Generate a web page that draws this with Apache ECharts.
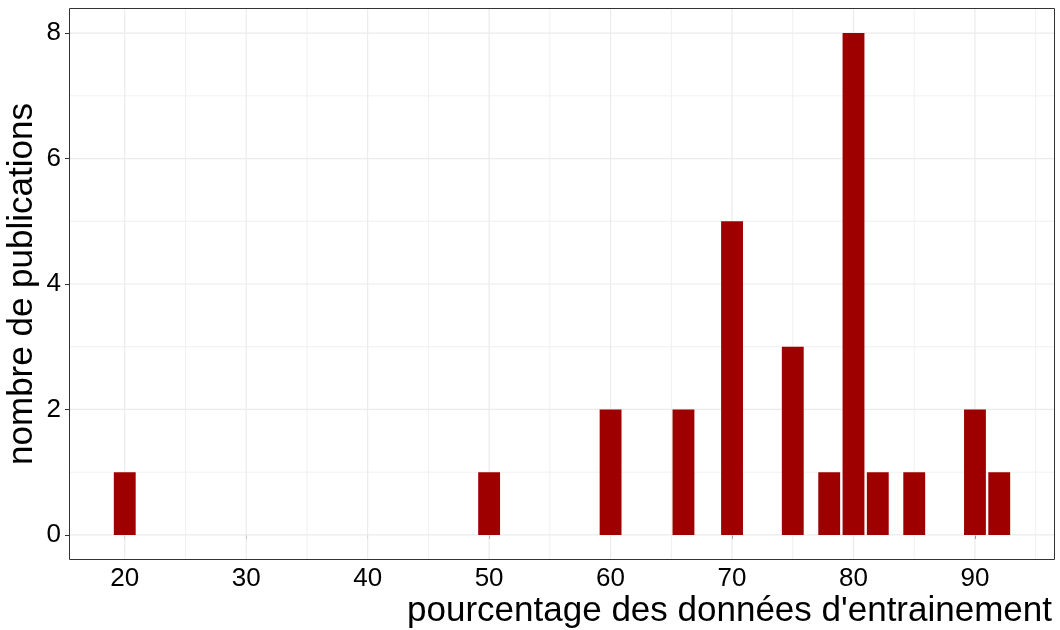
<!DOCTYPE html>
<html>
<head>
<meta charset="utf-8">
<script src="https://cdn.jsdelivr.net/npm/echarts@6/dist/echarts.min.js"></script>
<style>
  html, body { margin: 0; padding: 0; background: #fff; }
  #chart { width: 1060px; height: 630px; }
</style>
</head>
<body>
<div id="chart"></div>
<script>
// Training-data percentage reported by each publication, and how many publications used it
const trainPercent = [20, 50, 60, 66, 70, 75, 78, 80, 82, 85, 90, 92];
const pubCount     = [1, 1, 2, 2, 5, 3, 1, 8, 1, 1, 2, 1];

// Axis breaks
const xMajorBreaks = [20, 30, 40, 50, 60, 70, 80, 90];
const xMinorBreaks = [25, 35, 45, 55, 65, 75, 85, 95];
const yMajorBreaks = [0, 2, 4, 6, 8];
const yMinorBreaks = [1, 3, 5, 7];

const barWidthUnits = 1.8;
const xMin = 15.41, xMax = 96.59;
const yMin = -0.4, yMax = 8.4;

const FONT = '"Liberation Sans", Arial, sans-serif';
const GRID = { left: 69, right: 5, top: 8, bottom: 70 };
const W = 1060, H = 630;

function vLine(color, width) {
  return function (params, api) {
    const cs = params.coordSys;
    const p = api.coord([api.value(0), 0]);
    return {
      type: 'line',
      shape: { x1: p[0], y1: cs.y, x2: p[0], y2: cs.y + cs.height },
      style: { stroke: color, lineWidth: width }
    };
  };
}
function hLine(color, width) {
  return function (params, api) {
    const cs = params.coordSys;
    const p = api.coord([xMin, api.value(1)]);
    return {
      type: 'line',
      shape: { x1: cs.x, y1: p[1], x2: cs.x + cs.width, y2: p[1] },
      style: { stroke: color, lineWidth: width }
    };
  };
}

const chart = echarts.init(document.getElementById('chart'), null, { renderer: 'canvas' });

chart.setOption({
  animation: false,
  backgroundColor: '#ffffff',
  grid: {
    left: GRID.left, right: GRID.right, top: GRID.top, bottom: GRID.bottom,
    outerBoundsMode: 'none', containLabel: false,
    show: false
  },
  xAxis: {
    type: 'value', min: xMin, max: xMax,
    axisLine: { show: false },
    splitLine: { show: false },
    axisTick: { show: true, length: 4, lineStyle: { color: '#333333' }, customValues: xMajorBreaks },
    axisLabel: {
      customValues: xMajorBreaks, margin: 6,
      color: '#000000', fontSize: 26, fontFamily: FONT
    }
  },
  yAxis: {
    type: 'value', min: yMin, max: yMax,
    name: 'nombre de publications', nameLocation: 'middle', nameGap: 29,
    nameMoveOverlap: false,
    nameTextStyle: { color: '#000000', fontSize: 35, fontFamily: FONT },
    axisLine: { show: false },
    splitLine: { show: false },
    axisTick: { show: true, length: 4, lineStyle: { color: '#333333' }, customValues: yMajorBreaks },
    axisLabel: {
      customValues: yMajorBreaks, margin: 8,
      color: '#000000', fontSize: 26, fontFamily: FONT
    }
  },
  graphic: [
    {
      // panel border, drawn on pixel centres so it stays crisp
      type: 'rect', z: 100, silent: true,
      shape: {
        x: GRID.left + 0.5, y: GRID.top + 0.5,
        width: W - GRID.left - GRID.right - 1, height: H - GRID.top - GRID.bottom - 1
      },
      style: { fill: null, stroke: '#333333', lineWidth: 1 }
    },
    {
      type: 'text', right: 8, top: 594,
      style: {
        text: "pourcentage des données d'entrainement",
        fill: '#000000', fontSize: 35, fontFamily: FONT
      }
    }
  ],
  series: [
    { type: 'custom', z: 1, clip: true, silent: true,
      data: xMinorBreaks.map(v => [v, 0]), renderItem: vLine('#f0f0f0', 1) },
    { type: 'custom', z: 1, clip: true, silent: true,
      data: yMinorBreaks.map(v => [xMin, v]), renderItem: hLine('#f0f0f0', 1) },
    { type: 'custom', z: 2, clip: true, silent: true,
      data: xMajorBreaks.map(v => [v, 0]), renderItem: vLine('#ebebeb', 1.2) },
    { type: 'custom', z: 2, clip: true, silent: true,
      data: yMajorBreaks.map(v => [xMin, v]), renderItem: hLine('#ebebeb', 1.2) },
    {
      type: 'custom', z: 5, clip: true,
      data: trainPercent.map((x, i) => [x, pubCount[i]]),
      renderItem: function (params, api) {
        const x = api.value(0), y = api.value(1);
        const tl = api.coord([x - barWidthUnits / 2, y]);
        const br = api.coord([x + barWidthUnits / 2, 0]);
        return {
          type: 'rect',
          shape: { x: tl[0], y: tl[1], width: br[0] - tl[0], height: br[1] - tl[1] },
          style: { fill: '#9e0000' }
        };
      }
    }
  ]
});
</script>
</body>
</html>
